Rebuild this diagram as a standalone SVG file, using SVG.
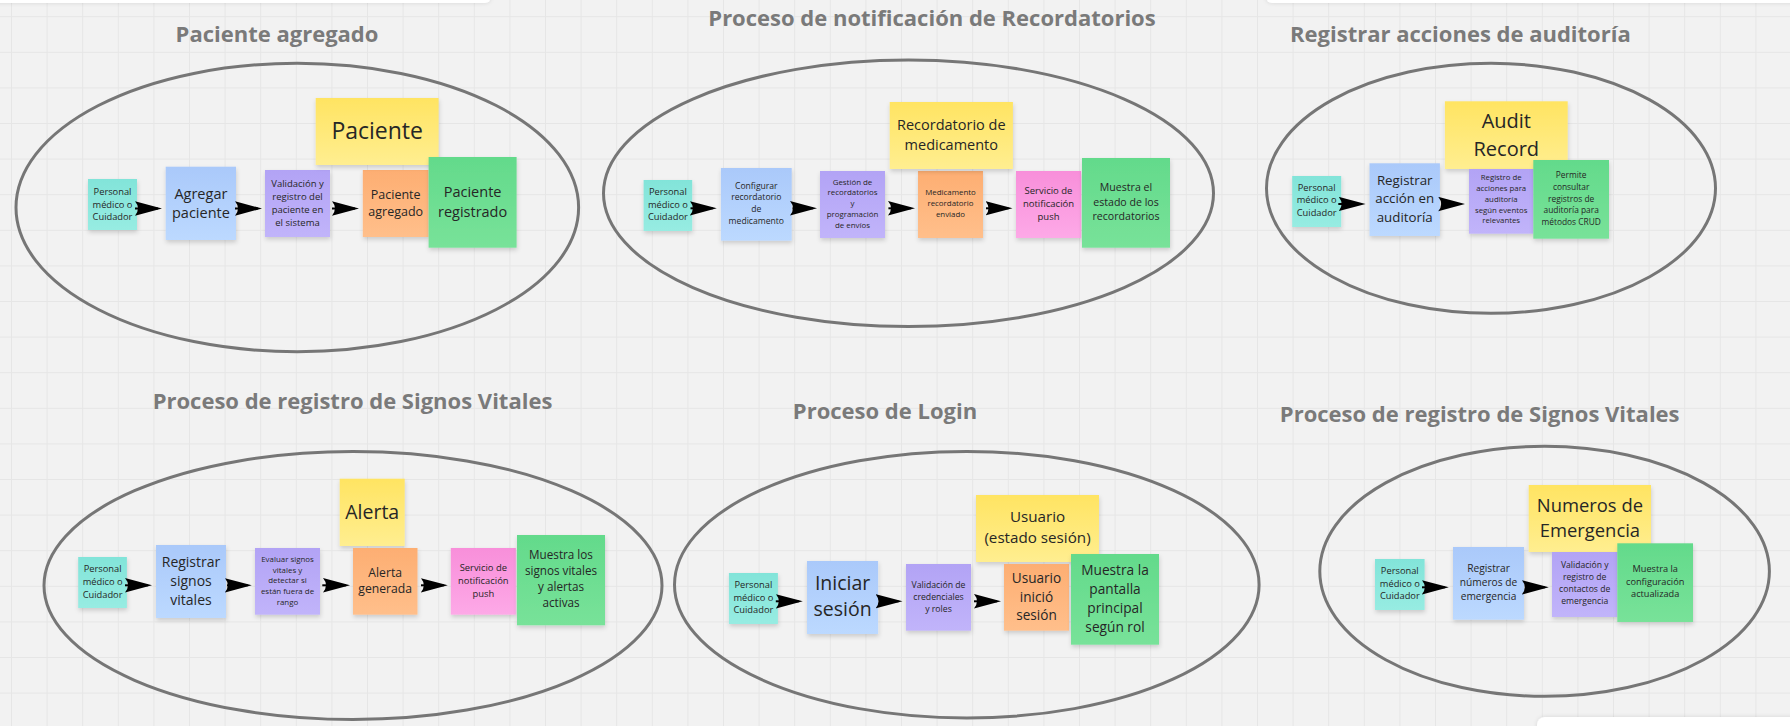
<svg xmlns="http://www.w3.org/2000/svg" width="1790" height="726" viewBox="0 0 1790 726">
<defs>
<style>
.title{font-family:"Open Sans","Liberation Sans",sans-serif;font-weight:700;font-size:22px;fill:#7a7a7a;text-anchor:middle}
.t{font-family:"Open Sans","Liberation Sans",sans-serif;fill:#262626;text-anchor:middle}
.ring{fill:none;stroke:#767676;stroke-width:3}
.st{filter:url(#sh)}
.cy{fill:url(#gCy)}.bl{fill:url(#gBl)}.pu{fill:url(#gPu)}.or{fill:url(#gOr)}.ye{fill:url(#gYe)}.gr{fill:url(#gGr)}.pk{fill:url(#gPk)}
.arrow{stroke:#000;stroke-width:2;fill:none;marker-end:url(#ah)}
.panel{fill:#fff;filter:url(#psh)}
</style>
<pattern id="grid" patternUnits="userSpaceOnUse" x="11" y="16.2" width="35.6" height="35.6">
<path d="M0 0.5H35.6M0.5 0V35.6" stroke="#e6e6e6" stroke-width="1" fill="none"/>
</pattern>
<filter id="sh" x="-20%" y="-20%" width="140%" height="150%">
<feDropShadow dx="0.5" dy="2.5" stdDeviation="2" flood-color="#000" flood-opacity="0.16"/>
</filter>
<filter id="psh" x="-10%" y="-100%" width="120%" height="300%">
<feDropShadow dx="0" dy="0" stdDeviation="2" flood-color="#000" flood-opacity="0.12"/>
</filter>
<linearGradient id="gCy" x1="0" y1="0" x2="0" y2="1"><stop offset="0" stop-color="#82e4d9"/><stop offset="1" stop-color="#97ece2"/></linearGradient>
<linearGradient id="gBl" x1="0" y1="0" x2="0" y2="1"><stop offset="0" stop-color="#aac9fa"/><stop offset="1" stop-color="#bcd9ff"/></linearGradient>
<linearGradient id="gPu" x1="0" y1="0" x2="0" y2="1"><stop offset="0" stop-color="#b2a3f5"/><stop offset="1" stop-color="#c1b4fa"/></linearGradient>
<linearGradient id="gOr" x1="0" y1="0" x2="0" y2="1"><stop offset="0" stop-color="#fdae72"/><stop offset="1" stop-color="#ffbf8b"/></linearGradient>
<linearGradient id="gYe" x1="0" y1="0" x2="0" y2="1"><stop offset="0" stop-color="#ffe462"/><stop offset="1" stop-color="#ffee90"/></linearGradient>
<linearGradient id="gGr" x1="0" y1="0" x2="0" y2="1"><stop offset="0" stop-color="#63da8b"/><stop offset="1" stop-color="#78e299"/></linearGradient>
<linearGradient id="gPk" x1="0" y1="0" x2="0" y2="1"><stop offset="0" stop-color="#f88fda"/><stop offset="1" stop-color="#fda9e7"/></linearGradient>
<marker id="ah" viewBox="0 0 27 15" markerUnits="userSpaceOnUse" markerWidth="27" markerHeight="15" refX="23" refY="7.5" orient="auto">
<path d="M0,0.3 L27,7.5 L0,14.7 Q6,7.5 0,0.3 Z" fill="#000"/>
</marker>
</defs>

<rect x="0" y="0" width="1790" height="726" fill="#f2f2f2"/>
<rect x="0" y="0" width="1790" height="726" fill="url(#grid)"/>
<rect class="panel" x="-10" y="-20" width="501" height="23" rx="6"/>
<rect class="panel" x="1266" y="-20" width="540" height="23" rx="6"/>
<rect class="panel" x="1537" y="717" width="270" height="30" rx="8"/>

<!-- Process frames -->
<g id="proc-paciente">
<text class="title" x="277" y="42">Paciente agregado</text>
<ellipse class="ring" cx="297.3" cy="207.5" rx="281.3" ry="144.2"/>
</g>
<g id="proc-recordatorios">
<text class="title" x="932" y="26">Proceso de notificación de Recordatorios</text>
<ellipse class="ring" cx="908.5" cy="193.3" rx="305" ry="133.3"/>
</g>
<g id="proc-auditoria">
<text class="title" x="1460.4" y="42">Registrar acciones de auditoría</text>
<ellipse class="ring" cx="1491" cy="188.3" rx="224.5" ry="125"/>
</g>
<g id="proc-signos">
<text class="title" x="352.5" y="409">Proceso de registro de Signos Vitales</text>
<ellipse class="ring" cx="353" cy="585.5" rx="309" ry="134"/>
</g>
<g id="proc-login">
<text class="title" x="885" y="419">Proceso de Login</text>
<ellipse class="ring" cx="966.8" cy="584.7" rx="292.3" ry="133.3"/>
</g>
<g id="proc-emergencia">
<text class="title" x="1479.7" y="422">Proceso de registro de Signos Vitales</text>
<ellipse class="ring" cx="1544.6" cy="571.3" rx="224.8" ry="125"/>
</g>

<!-- Process 1 -->
<g id="p1-actor"><rect class="st cy" x="88" y="179" width="49" height="51"/>
<text class="t" font-size="9.3"><tspan x="112.5" y="194.9">Personal</tspan><tspan x="112.5" y="207.6">médico o</tspan><tspan x="112.5" y="220.3">Cuidador</tspan></text></g>
<g id="p1-agregar"><rect class="st bl" x="165.7" y="166.7" width="70.3" height="73.3"/>
<text class="t" font-size="14.5"><tspan x="200.9" y="198.5">Agregar</tspan><tspan x="200.9" y="217.8">paciente</tspan></text></g>
<g id="p1-validacion"><rect class="st pu" x="265" y="170" width="65" height="67"/>
<text class="t" font-size="9.5"><tspan x="297.5" y="187.1">Validación y</tspan><tspan x="297.5" y="200.1">registro del</tspan><tspan x="297.5" y="213.1">paciente en</tspan><tspan x="297.5" y="226.1">el sistema</tspan></text></g>
<g id="p1-agregado"><rect class="st or" x="362.8" y="170" width="65.8" height="67"/>
<text class="t" font-size="12.5"><tspan x="395.7" y="199">Paciente</tspan><tspan x="395.7" y="216.2">agregado</tspan></text></g>
<g id="p1-paciente"><rect class="st ye" x="315.7" y="98" width="122.9" height="67"/>
<text class="t" font-size="23" x="377.2" y="139.1">Paciente</text></g>
<g id="p1-registrado"><rect class="st gr" x="428.6" y="157" width="88" height="90.7"/>
<text class="t" font-size="14.5"><tspan x="472.6" y="197.1">Paciente</tspan><tspan x="472.6" y="217.1">registrado</tspan></text></g>

<!-- Process 2 -->
<g id="p2-actor"><rect class="st cy" x="643.6" y="180" width="48.6" height="51"/>
<text class="t" font-size="9.3"><tspan x="667.9" y="195.1">Personal</tspan><tspan x="667.9" y="207.8">médico o</tspan><tspan x="667.9" y="220.4">Cuidador</tspan></text></g>
<g id="p2-configurar"><rect class="st bl" x="720.9" y="168" width="70.8" height="72.7"/>
<text class="t" font-size="8.6"><tspan x="756.3" y="188.5">Configurar</tspan><tspan x="756.3" y="200.1">recordatorio</tspan><tspan x="756.3" y="211.5">de</tspan><tspan x="756.3" y="223.5">medicamento</tspan></text></g>
<g id="p2-gestion"><rect class="st pu" x="820" y="171" width="65" height="67"/>
<text class="t" font-size="7.9"><tspan x="852.5" y="184.6">Gestión de</tspan><tspan x="852.5" y="195.3">recordatorios</tspan><tspan x="852.5" y="206.3">y</tspan><tspan x="852.5" y="216.9">programación</tspan><tspan x="852.5" y="227.6">de envíos</tspan></text></g>
<g id="p2-enviado"><rect class="st or" x="918" y="171" width="65" height="67"/>
<text class="t" font-size="7.9"><tspan x="950.5" y="195.3">Medicamento</tspan><tspan x="950.5" y="206.3">recordatorio</tspan><tspan x="950.5" y="216.9">enviado</tspan></text></g>
<g id="p2-recordatorio"><rect class="st ye" x="889.7" y="102" width="123.2" height="67"/>
<text class="t" font-size="14.5"><tspan x="951.3" y="129.8">Recordatorio de</tspan><tspan x="951.3" y="149.8">medicamento</tspan></text></g>
<g id="p2-push"><rect class="st pk" x="1016" y="171" width="65" height="67"/>
<text class="t" font-size="9.5"><tspan x="1048.5" y="193.8">Servicio de</tspan><tspan x="1048.5" y="206.8">notificación</tspan><tspan x="1048.5" y="219.8">push</tspan></text></g>
<g id="p2-estado"><rect class="st gr" x="1082" y="158" width="88" height="89.7"/>
<text class="t" font-size="10.6"><tspan x="1126" y="190.8">Muestra el</tspan><tspan x="1126" y="205.5">estado de los</tspan><tspan x="1126" y="219.8">recordatorios</tspan></text></g>

<!-- Process 3 -->
<g id="p3-actor"><rect class="st cy" x="1292.2" y="176" width="49" height="51"/>
<text class="t" font-size="9.3"><tspan x="1316.7" y="190.8">Personal</tspan><tspan x="1316.7" y="203.4">médico o</tspan><tspan x="1316.7" y="216.1">Cuidador</tspan></text></g>
<g id="p3-registrar"><rect class="st bl" x="1369.5" y="163.3" width="70.4" height="72.7"/>
<text class="t" font-size="13.3"><tspan x="1404.7" y="185.4">Registrar</tspan><tspan x="1404.7" y="203.4">acción en</tspan><tspan x="1404.7" y="221.7">auditoría</tspan></text></g>
<g id="p3-audit"><rect class="st ye" x="1444.9" y="101.3" width="122.8" height="67.7"/>
<text class="t" font-size="20"><tspan x="1506.3" y="127.9">Audit</tspan><tspan x="1506.3" y="155.5">Record</tspan></text></g>
<g id="p3-registro"><rect class="st pu" x="1469" y="169" width="64.3" height="64.7"/>
<text class="t" font-size="7.8"><tspan x="1501.2" y="180.3">Registro de</tspan><tspan x="1501.2" y="191.3">acciones para</tspan><tspan x="1501.2" y="201.9">auditoría</tspan><tspan x="1501.2" y="212.6">según eventos</tspan><tspan x="1501.2" y="223.3">relevantes</tspan></text></g>
<g id="p3-consulta"><rect class="st gr" x="1533.3" y="160" width="75.7" height="78.7"/>
<text class="t" font-size="8.4"><tspan x="1571.2" y="177.5">Permite</tspan><tspan x="1571.2" y="189.5">consultar</tspan><tspan x="1571.2" y="201.5">registros de</tspan><tspan x="1571.2" y="213.1">auditoría para</tspan><tspan x="1571.2" y="224.8">métodos CRUD</tspan></text></g>

<!-- Process 4 -->
<g id="p4-actor"><rect class="st cy" x="78.2" y="557" width="48.7" height="51"/>
<text class="t" font-size="9.3"><tspan x="102.6" y="572.4">Personal</tspan><tspan x="102.6" y="585.1">médico o</tspan><tspan x="102.6" y="597.8">Cuidador</tspan></text></g>
<g id="p4-registrar"><rect class="st bl" x="156" y="545" width="70" height="73"/>
<text class="t" font-size="14"><tspan x="191" y="566.6">Registrar</tspan><tspan x="191" y="585.9">signos</tspan><tspan x="191" y="604.6">vitales</tspan></text></g>
<g id="p4-evaluar"><rect class="st pu" x="255" y="548" width="65" height="66.7"/>
<text class="t" font-size="7.9"><tspan x="287.5" y="561.6">Evaluar signos</tspan><tspan x="287.5" y="572.6">vitales y</tspan><tspan x="287.5" y="583.3">detectar si</tspan><tspan x="287.5" y="594.3">están fuera de</tspan><tspan x="287.5" y="604.9">rango</tspan></text></g>
<g id="p4-alerta"><rect class="st ye" x="339.7" y="478.7" width="65" height="67.3"/>
<text class="t" font-size="19.5" x="372.2" y="519">Alerta</text></g>
<g id="p4-generada"><rect class="st or" x="353" y="548" width="64.5" height="66.7"/>
<text class="t" font-size="12.2"><tspan x="385.2" y="576.7">Alerta</tspan><tspan x="385.2" y="593.3">generada</tspan></text></g>
<g id="p4-push"><rect class="st pk" x="450.8" y="548" width="65" height="66.7"/>
<text class="t" font-size="9.4"><tspan x="483.3" y="571.1">Servicio de</tspan><tspan x="483.3" y="584.1">notificación</tspan><tspan x="483.3" y="597.1">push</tspan></text></g>
<g id="p4-muestra"><rect class="st gr" x="517" y="535" width="88" height="90.3"/>
<text class="t" font-size="11.7"><tspan x="561" y="559.2">Muestra los</tspan><tspan x="561" y="575.2">signos vitales</tspan><tspan x="561" y="591.2">y alertas</tspan><tspan x="561" y="607.2">activas</tspan></text></g>

<!-- Process 5 -->
<g id="p5-actor"><rect class="st cy" x="728.9" y="573" width="49" height="51"/>
<text class="t" font-size="9.3"><tspan x="753.4" y="588.1">Personal</tspan><tspan x="753.4" y="600.8">médico o</tspan><tspan x="753.4" y="613.4">Cuidador</tspan></text></g>
<g id="p5-iniciar"><rect class="st bl" x="807" y="561" width="71.1" height="73"/>
<text class="t" font-size="19.5"><tspan x="842.6" y="590.2">Iniciar</tspan><tspan x="842.6" y="616.1">sesión</tspan></text></g>
<g id="p5-validacion"><rect class="st pu" x="906" y="564" width="65" height="66.7"/>
<text class="t" font-size="8.7"><tspan x="938.5" y="587.6">Validación de</tspan><tspan x="938.5" y="599.6">credenciales</tspan><tspan x="938.5" y="611.6">y roles</tspan></text></g>
<g id="p5-usuario"><rect class="st ye" x="976" y="495" width="123" height="67"/>
<text class="t" font-size="15.2"><tspan x="1037.5" y="522.3">Usuario</tspan><tspan x="1037.5" y="543">(estado sesión)</tspan></text></g>
<g id="p5-inicio"><rect class="st or" x="1004" y="564" width="65" height="66.7"/>
<text class="t" font-size="13.6"><tspan x="1036.5" y="582.8">Usuario</tspan><tspan x="1036.5" y="601.5">inició</tspan><tspan x="1036.5" y="620.2">sesión</tspan></text></g>
<g id="p5-muestra"><rect class="st gr" x="1071" y="554" width="88" height="90.7"/>
<text class="t" font-size="13.7"><tspan x="1115" y="574.8">Muestra la</tspan><tspan x="1115" y="593.8">pantalla</tspan><tspan x="1115" y="612.8">principal</tspan><tspan x="1115" y="631.5">según rol</tspan></text></g>

<!-- Process 6 -->
<g id="p6-actor"><rect class="st cy" x="1375" y="559" width="49.6" height="51"/>
<text class="t" font-size="9.3"><tspan x="1399.8" y="574.1">Personal</tspan><tspan x="1399.8" y="586.8">médico o</tspan><tspan x="1399.8" y="599.4">Cuidador</tspan></text></g>
<g id="p6-registrar"><rect class="st bl" x="1453" y="547" width="71" height="72.7"/>
<text class="t" font-size="10.2"><tspan x="1488.5" y="571.7">Registrar</tspan><tspan x="1488.5" y="585.7">números de</tspan><tspan x="1488.5" y="599.7">emergencia</tspan></text></g>
<g id="p6-numeros"><rect class="st ye" x="1528.7" y="485" width="122.3" height="67"/>
<text class="t" font-size="18.4"><tspan x="1589.9" y="512">Numeros de</tspan><tspan x="1589.9" y="537">Emergencia</tspan></text></g>
<g id="p6-validacion"><rect class="st pu" x="1552" y="552" width="65.3" height="65"/>
<text class="t" font-size="8.6"><tspan x="1584.7" y="567.5">Validación y</tspan><tspan x="1584.7" y="579.5">registro de</tspan><tspan x="1584.7" y="591.5">contactos de</tspan><tspan x="1584.7" y="603.5">emergencia</tspan></text></g>
<g id="p6-muestra"><rect class="st gr" x="1617.3" y="543.3" width="75.7" height="78.7"/>
<text class="t" font-size="9.2"><tspan x="1655.2" y="572">Muestra la</tspan><tspan x="1655.2" y="584.7">configuración</tspan><tspan x="1655.2" y="597.3">actualizada</tspan></text></g>

<!-- Connectors -->
<g id="connectors">
<line class="arrow" x1="135" y1="208.5" x2="158" y2="208.5"/>
<line class="arrow" x1="235" y1="208.5" x2="258" y2="208.5"/>
<line class="arrow" x1="332" y1="208.5" x2="355" y2="208.5"/>

<line class="arrow" x1="690.5" y1="208.3" x2="712.8" y2="208.3"/>
<line class="arrow" x1="792.5" y1="208.3" x2="813" y2="208.3"/>
<line class="arrow" x1="888.4" y1="208.3" x2="911" y2="208.3"/>
<line class="arrow" x1="986" y1="208.3" x2="1008.5" y2="208.3"/>

<line class="arrow" x1="1338.3" y1="204" x2="1361.6" y2="204"/>
<line class="arrow" x1="1441.5" y1="204" x2="1461.2" y2="204"/>

<line class="arrow" x1="125" y1="585.3" x2="148" y2="585.3"/>
<line class="arrow" x1="227" y1="585.3" x2="247.8" y2="585.3"/>
<line class="arrow" x1="322.3" y1="585.3" x2="346" y2="585.3"/>
<line class="arrow" x1="421" y1="585.3" x2="443.8" y2="585.3"/>

<line class="arrow" x1="775.8" y1="601.3" x2="798.8" y2="601.3"/>
<line class="arrow" x1="879" y1="601.3" x2="898.5" y2="601.3"/>
<line class="arrow" x1="974" y1="601.3" x2="997" y2="601.3"/>

<line class="arrow" x1="1422" y1="587.3" x2="1444.8" y2="587.3"/>
<line class="arrow" x1="1525" y1="587.3" x2="1544.8" y2="587.3"/>
</g>
</svg>
